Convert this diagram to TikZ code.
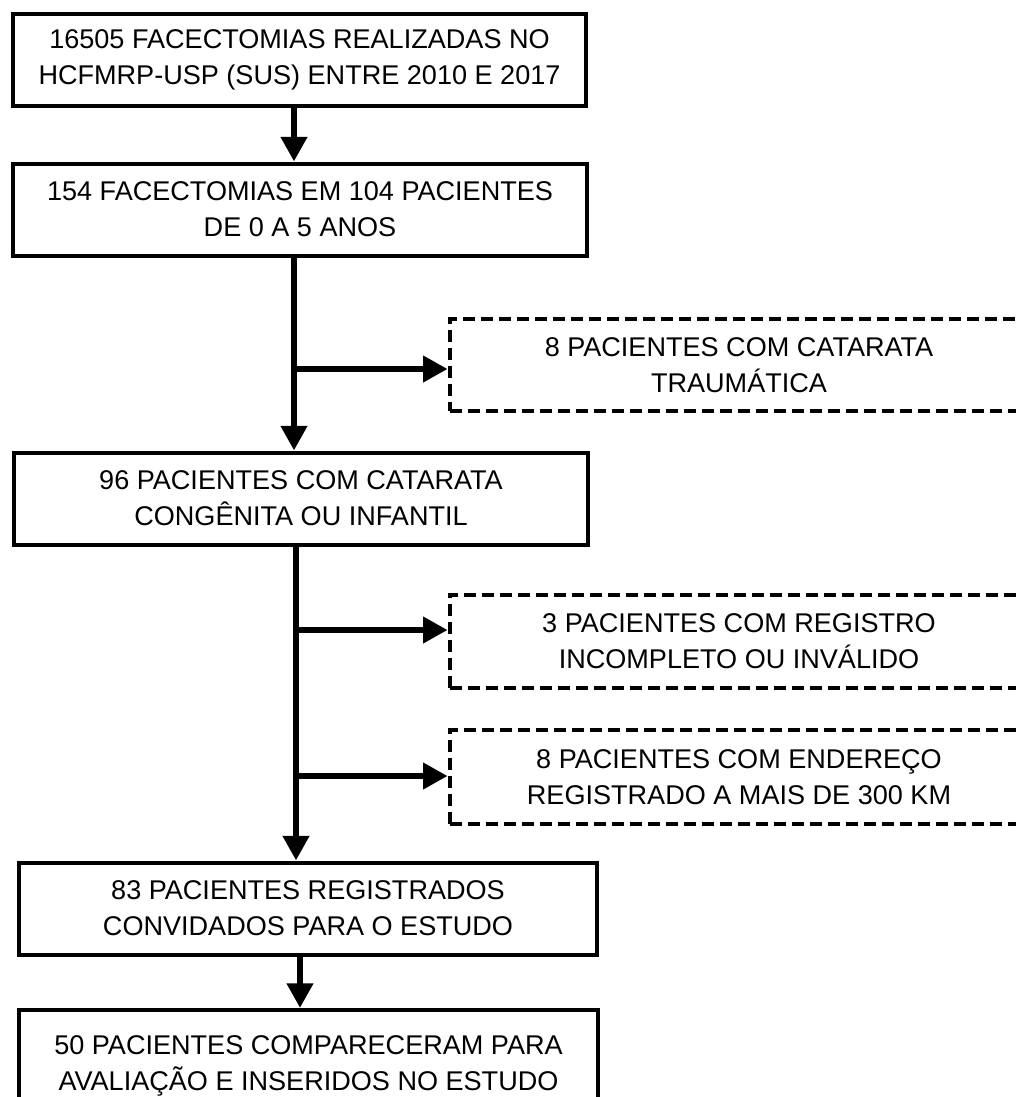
\documentclass[tikz,border=0pt]{standalone}
\usepackage{fontspec}
\setmainfont{Liberation Sans}
\usetikzlibrary{arrows.meta,positioning}

\begin{document}
\begin{tikzpicture}[x=0.75pt,y=-0.75pt,
                    every node/.style = {shape=rectangle, align=center,
                    font=\fontsize{20.3pt}{27pt}\selectfont},
                    stagebox/.style = {draw, line width=3pt, inner sep=0pt,
                    minimum width=430pt, minimum height=69pt},
                    dropbox/.style = {stagebox, dash pattern=on 9pt off 4.5pt,
                    minimum width=434pt},
                    flow/.style = {draw, line width=5pt,
                    -{Triangle[width=19pt,length=18.5pt]}}]
  \useasboundingbox (0,0) rectangle (1016,1097);

  \node[stagebox] (fac) at (299.5,59.5)
    {16505 FACECTOMIAS REALIZADAS NO\\HCFMRP-USP (SUS) ENTRE 2010 E 2017};
  \node[stagebox] (idade) at (300,209.5)
    {154 FACECTOMIAS EM 104 PACIENTES\\DE 0 A 5 ANOS};
  \node[stagebox] (cong) at (301,498.5)
    {96 PACIENTES COM CATARATA\\CONGÊNITA OU INFANTIL};
  \node[stagebox, minimum width=433.5pt] (conv) at (308,908.5)
    {83 PACIENTES REGISTRADOS\\CONVIDADOS PARA O ESTUDO};
  \node[stagebox, minimum width=434pt, minimum height=84pt] (incl) at (308.5,1066)
    {50 PACIENTES COMPARECERAM PARA\\AVALIAÇÃO E INSERIDOS NO ESTUDO};

  \node[dropbox] (traum) at (739,365)
    {8 PACIENTES COM CATARATA\\TRAUMÁTICA};
  \node[dropbox, minimum height=70pt] (reg) at (739,641.5)
    {3 PACIENTES COM REGISTRO\\INCOMPLETO OU INVÁLIDO};
  \node[dropbox, minimum height=70pt] (end) at (739,777)
    {8 PACIENTES COM ENDEREÇO\\REGISTRADO A MAIS DE 300 KM};

  \coordinate (upper) at (294,0);
  \coordinate (lower) at (296,0);
  \coordinate (last) at (300,0);
  \coordinate (jtraum) at (294,369);
  \coordinate (jreg) at (296,630);
  \coordinate (jend) at (296,776);

  \draw[flow] (fac.south -| upper) -- (idade.north -| upper);
  \draw[flow] (idade.south -| upper) -- (cong.north -| upper);
  \draw[flow] (jtraum) -- (jtraum -| traum.west);
  \draw[flow] (cong.south -| lower) -- (conv.north -| lower);
  \draw[flow] (jreg) -- (jreg -| reg.west);
  \draw[flow] (jend) -- (jend -| end.west);
  \draw[flow] (conv.south -| last) -- (incl.north -| last);
\end{tikzpicture}
\end{document}
